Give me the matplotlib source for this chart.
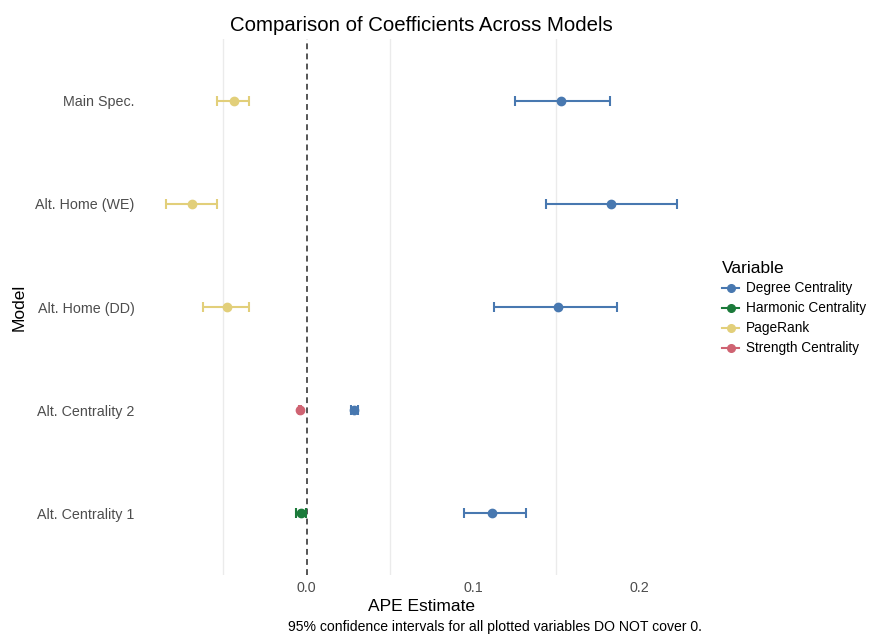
import numpy as np
import matplotlib
matplotlib.use("Agg")
import matplotlib.pyplot as plt
from matplotlib.lines import Line2D

plt.rcParams["font.family"] = ["Liberation Sans", "DejaVu Sans"]

# model order, bottom to top
models = ["Alt. Centrality 1", "Alt. Centrality 2", "Alt. Home (DD)", "Alt. Home (WE)", "Main Spec."]

variables = ["Degree Centrality", "Harmonic Centrality", "PageRank", "Strength Centrality"]
colors = {
    "Degree Centrality": "#4878b0",
    "Harmonic Centrality": "#1b7a3a",
    "PageRank": "#e2cf7a",
    "Strength Centrality": "#cf6372",
}

# estimates with 95% CI, one row per plotted coefficient
est_model = ["Main Spec.", "Main Spec.", "Alt. Home (WE)", "Alt. Home (WE)",
             "Alt. Home (DD)", "Alt. Home (DD)", "Alt. Centrality 2", "Alt. Centrality 2",
             "Alt. Centrality 1", "Alt. Centrality 1"]
est_var = ["PageRank", "Degree Centrality", "PageRank", "Degree Centrality",
           "PageRank", "Degree Centrality", "Strength Centrality", "Degree Centrality",
           "Harmonic Centrality", "Degree Centrality"]
estimate = [-0.0437, 0.1530, -0.0691, 0.1826, -0.0480, 0.1512, -0.0040, 0.0286, -0.0032, 0.1111]
ci_low = [-0.0537, 0.1253, -0.0847, 0.1440, -0.0623, 0.1127, -0.0048, 0.0268, -0.0062, 0.0945]
ci_high = [-0.0348, 0.1822, -0.0541, 0.2222, -0.0348, 0.1864, -0.0032, 0.0308, -0.0002, 0.1315]

fig = plt.figure(figsize=(8.7, 6.37), dpi=100)
ax = fig.add_axes([0.161, 0.097, 0.646, 0.842])

for gx in [-0.05, 0.05, 0.15]:
    ax.axvline(gx, color="#ebebeb", lw=1.0, zorder=0)
ax.axvline(0, color="#555555", lw=1.4, ls=(0, (3, 2.2)), zorder=1)

for m, v, e, lo, hi in zip(est_model, est_var, estimate, ci_low, ci_high):
    y = models.index(m)
    ax.errorbar(e, y, xerr=[[e - lo], [hi - e]], fmt="o", color=colors[v],
                ms=6, elinewidth=1.5, capsize=3.6, capthick=1.5, zorder=3)

ax.set_xlim(-0.1, 0.2375)
ax.set_ylim(-0.6, 4.6)
ax.set_xticks([0.0, 0.1, 0.2])
ax.set_xticklabels(["0.0", "0.1", "0.2"])
ax.set_yticks(range(len(models)))
ax.set_yticklabels(models)
ax.tick_params(length=0, labelsize=10.3, labelcolor="#4d4d4d", pad=4)
for s in ax.spines.values():
    s.set_visible(False)

ax.set_title("Comparison of Coefficients Across Models", fontsize=14.7, pad=6)
ax.set_xlabel("APE Estimate", fontsize=12.5, labelpad=3)
ax.set_ylabel("Model", fontsize=12.5, labelpad=6)

fig.text(0.807, 0.0157, "95% confidence intervals for all plotted variables DO NOT cover 0.",
         ha="right", va="center", fontsize=10.1)

handles = [Line2D([0], [0], color=colors[v], marker="o", ms=5.5, lw=1.5) for v in variables]
leg = fig.legend(handles, variables, loc="upper left", bbox_to_anchor=(0.819, 0.606),
                 frameon=False, title="Variable", fontsize=9.8, title_fontsize=12.5,
                 handlelength=1.25, handletextpad=0.5, labelspacing=0.44,
                 borderpad=0.2)
leg._legend_box.align = "left"

fig.savefig("out.png", dpi=100)
